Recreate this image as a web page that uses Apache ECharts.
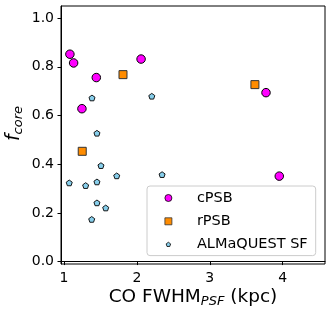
<!DOCTYPE html>
<html>
<head>
<meta charset="utf-8">
<script src="https://cdn.jsdelivr.net/npm/echarts@6/dist/echarts.min.js"></script>
<style>
html,body{margin:0;padding:0;background:#fff;}
#chart{width:332px;height:317px;}
</style>
</head>
<body>
<div id="chart"></div>
<script>
// ---- data ----
const cpsbX = [1.082, 1.133, 1.444, 2.058, 1.247, 3.771, 3.953];
const cpsbY = [0.852, 0.816, 0.756, 0.832, 0.628, 0.694, 0.351];
const rpsbX = [1.810, 3.619, 1.251];
const rpsbY = [0.768, 0.727, 0.453];
const sfX = [1.385, 2.205, 1.453, 1.508, 1.073, 1.298, 1.453, 1.724, 2.346, 1.453, 1.573, 1.381];
const sfY = [0.671, 0.678, 0.526, 0.393, 0.322, 0.311, 0.326, 0.351, 0.356, 0.240, 0.219, 0.172];
const seriesNames = ['cPSB', 'rPSB', 'ALMaQUEST SF'];
const xTicks = [1, 2, 3, 4];
const yTicks = [0.0, 0.2, 0.4, 0.6, 0.8, 1.0];

const pairs = (xs, ys) => xs.map((x, i) => [x, ys[i]]);
const FONT = 'DejaVu Sans';
const squarePath = 'path://M0,0L7,0L7,7L0,7Z';
// pentagon with padded bounding box (extra move points) so it renders smaller than its box
const pentPath = 'path://M-3.5,-3.5M3.5,3.5M0,-2.33L2.216,-0.72L1.37,1.885L-1.37,1.885L-2.216,-0.72Z';

const chart = echarts.init(document.getElementById('chart'), null, {renderer: 'canvas'});
chart.setOption({
  animation: false,
  backgroundColor: '#fff',
  grid: {
    left: 61, right: 7, top: 6, bottom: 53,
    show: true, borderColor: '#000', borderWidth: 1,
    containLabel: false, outerBoundsMode: 'none'
  },
  xAxis: {
    type: 'value', min: 0.96, max: 4.58,
    splitLine: {show: false},
    axisLine: {show: true, lineStyle: {color: '#000', width: 1}},
    axisTick: {show: true, inside: false, length: 3.5, lineStyle: {color: '#000', width: 1}, customValues: xTicks},
    axisLabel: {show: true, customValues: xTicks, margin: 7, color: '#000', fontFamily: FONT, fontSize: 14,
      formatter: v => String(v)},
    name: '{a|CO FWHM}{s|PSF}{a| (kpc)}',
    nameLocation: 'middle', nameGap: 23, nameMoveOverlap: false,
    nameTextStyle: {
      color: '#000', fontFamily: FONT,
      rich: {
        a: {fontSize: 18.5, fontFamily: FONT, color: '#000', lineHeight: 21},
        s: {fontSize: 13, fontFamily: FONT, fontStyle: 'italic', color: '#000', lineHeight: 12, verticalAlign: 'bottom'}
      }
    }
  },
  yAxis: {
    type: 'value', min: -0.01, max: 1.05,
    splitLine: {show: false},
    axisLine: {show: true, lineStyle: {color: '#000', width: 1}},
    axisTick: {show: true, inside: false, length: 3.5, lineStyle: {color: '#000', width: 1}, customValues: yTicks},
    axisLabel: {show: true, customValues: yTicks, margin: 7, color: '#000', fontFamily: FONT, fontSize: 14,
      formatter: v => v.toFixed(1)},
    name: '{f|f}{s|core}',
    nameLocation: 'middle', nameRotate: 90, nameGap: 36, nameMoveOverlap: false,
    nameTextStyle: {
      color: '#000', fontFamily: FONT, padding: [0, 0, 0, 23],
      rich: {
        f: {fontSize: 19, fontFamily: FONT, fontStyle: 'italic', color: '#000', lineHeight: 21},
        s: {fontSize: 13, fontFamily: FONT, fontStyle: 'italic', color: '#000', lineHeight: 12, verticalAlign: 'bottom'}
      }
    }
  },
  legend: {
    show: true, orient: 'vertical',
    left: 147, top: 186,
    padding: [4, 8, 3, 17.5],
    itemWidth: 47, itemHeight: 7, itemGap: 7.3,
    borderColor: '#cccccc', borderWidth: 1, borderRadius: 3,
    backgroundColor: 'rgba(255,255,255,0.8)',
    itemStyle: {borderWidth: 0.8},
    textStyle: {fontFamily: FONT, fontSize: 14.5, color: '#000', lineHeight: 16},
    data: [
      {name: seriesNames[0], icon: 'circle'},
      {name: seriesNames[1], icon: squarePath},
      {name: seriesNames[2], icon: pentPath}
    ]
  },
  series: [
    {
      name: seriesNames[2], type: 'scatter', symbol: pentPath, symbolSize: 9.5, z: 2,
      itemStyle: {color: '#87ceeb', borderColor: '#000', borderWidth: 0.9, opacity: 1},
      data: pairs(sfX, sfY)
    },
    {
      name: seriesNames[1], type: 'scatter', symbol: squarePath, symbolSize: 8, z: 3,
      itemStyle: {color: '#ff8c00', borderColor: '#333', borderWidth: 1, opacity: 1},
      data: pairs(rpsbX, rpsbY)
    },
    {
      name: seriesNames[0], type: 'scatter', symbol: 'circle', symbolSize: 8.5, z: 4,
      itemStyle: {color: '#ff00ff', borderColor: '#000', borderWidth: 1, opacity: 1},
      data: pairs(cpsbX, cpsbY)
    }
  ]
});
</script>
</body>
</html>
